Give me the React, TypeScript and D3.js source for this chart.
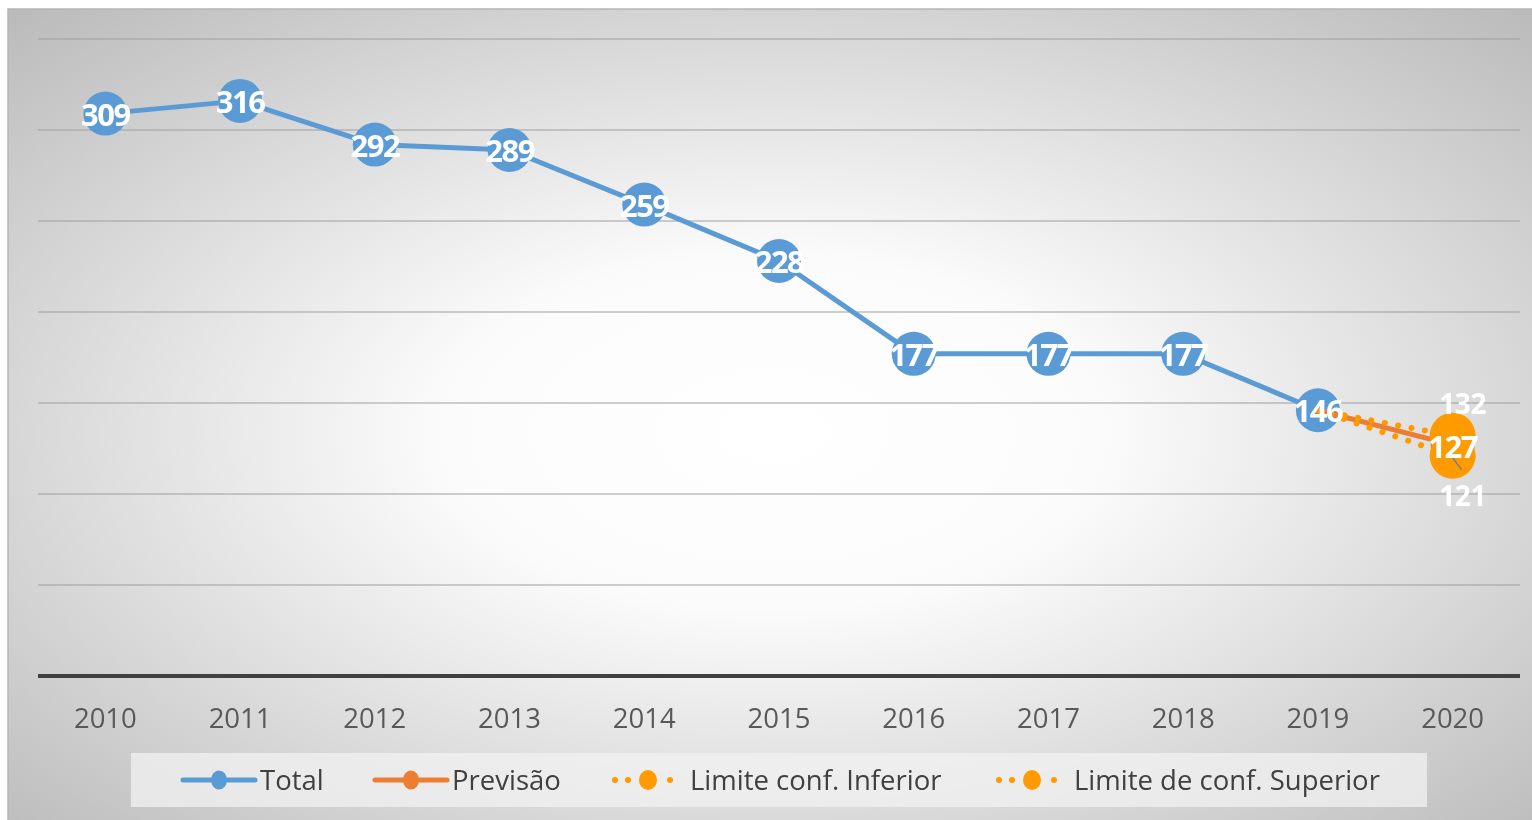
import React from "react";
import * as d3 from "d3";

// chart data
const years = ["2010", "2011", "2012", "2013", "2014", "2015", "2016", "2017", "2018", "2019", "2020"];
const totalValues = [309, 316, 292, 289, 259, 228, 177, 177, 177, 146];
const forecastYears = ["2019", "2020"];
const forecastValues = [146, 127];
const lowerValues = [146, 121];
const upperValues = [146, 132];
const gridTicks = [0, 50, 100, 150, 200, 250, 300, 350];
const legendLabels = ["Total", "Previsão", "Limite conf. Inferior", "Limite de conf. Superior"];

const BLUE = "#5b9bd5";
const ORANGE = "#ed7d31";
const GOLD = "#ff9a00";
const FONT = "'Open Sans', 'DejaVu Sans', sans-serif";

const W = 1532;
const H = 820;
const panel = { x: 8, y: 9, w: 1530, h: 815 };
const plot = { left: 38, right: 1520, top: 39, bottom: 676 };

export default function App() {
  const x = d3.scaleBand<string>().domain(years).range([plot.left, plot.right]);
  const cx = (yr: string) => (x(yr) ?? 0) + x.bandwidth() / 2;
  const y = d3.scaleLinear().domain([0, 350]).range([plot.bottom, plot.top]);

  const totalPts = totalValues.map((v, i) => ({ yr: years[i], v }));
  const fcPts = forecastValues.map((v, i) => ({ yr: forecastYears[i], v }));
  const loPts = lowerValues.map((v, i) => ({ yr: forecastYears[i], v }));
  const upPts = upperValues.map((v, i) => ({ yr: forecastYears[i], v }));

  const line = d3
    .line<{ yr: string; v: number }>()
    .x((d) => cx(d.yr))
    .y((d) => y(d.v));

  const last = forecastYears.length - 1;
  const lastYr = forecastYears[last];

  // legend item positions
  const legendItems = [
    { x: 183, kind: "solid", color: BLUE },
    { x: 375, kind: "solid", color: ORANGE },
    { x: 612, kind: "dot", color: GOLD },
    { x: 996, kind: "dot", color: GOLD },
  ];
  const legendY = 780;

  const labelStyle = {
    fontFamily: FONT,
    fontWeight: 700,
    fontSize: 31,
    letterSpacing: -1.5,
    fill: "#ffffff",
  } as const;

  return (
    <div style={{ position: "fixed", left: 0, top: 0, width: W, height: H, overflow: "hidden" }}>
      <svg width={W} height={H} style={{ display: "block" }}>
        <defs>
          <radialGradient id="bg" cx="0.5" cy="0.52" r="0.72">
            <stop offset="0" stopColor="#ffffff" />
            <stop offset="0.3" stopColor="#fbfbfb" />
            <stop offset="1" stopColor="#bababa" />
          </radialGradient>
        </defs>
        <rect x={panel.x} y={panel.y} width={panel.w} height={panel.h} fill="url(#bg)" stroke="#b5b5b5" strokeWidth={1.5} />

        {/* gridlines */}
        {gridTicks.slice(1).map((t) => (
          <line key={t} x1={plot.left} x2={plot.right} y1={y(t)} y2={y(t)} stroke="#9e9e9e" strokeWidth={1.2} />
        ))}
        <line x1={plot.left} x2={plot.right} y1={y(0)} y2={y(0)} stroke="#404040" strokeWidth={4} />

        {/* x labels */}
        {years.map((yr) => (
          <text key={yr} x={cx(yr)} y={728} textAnchor="middle" fontFamily={FONT} fontSize={27.5} fill="#595959">
            {yr}
          </text>
        ))}

        {/* Total */}
        <path d={line(totalPts) ?? ""} fill="none" stroke={BLUE} strokeWidth={5} strokeLinejoin="round" />
        {totalPts.map((d) => (
          <circle key={d.yr} cx={cx(d.yr)} cy={y(d.v)} r={22} fill={BLUE} />
        ))}

        {/* forecast + limits */}
        <path d={line(fcPts) ?? ""} fill="none" stroke={ORANGE} strokeWidth={5} />
        <path d={line(loPts) ?? ""} fill="none" stroke={GOLD} strokeWidth={6} strokeLinecap="round" strokeDasharray="0.1 13.5" />
        <path d={line(upPts) ?? ""} fill="none" stroke={GOLD} strokeWidth={6} strokeLinecap="round" strokeDasharray="0.1 13.5" />
        <circle cx={cx(lastYr)} cy={y(forecastValues[last])} r={22} fill={ORANGE} />
        <circle cx={cx(lastYr)} cy={y(lowerValues[last])} r={23} fill={GOLD} />
        <circle cx={cx(lastYr)} cy={y(upperValues[last])} r={23} fill={GOLD} />

        {/* data labels */}
        {totalPts.map((d) => (
          <text key={d.yr} x={cx(d.yr)} y={y(d.v) + 12} textAnchor="middle" {...labelStyle}>
            {d.v}
          </text>
        ))}
        <line x1={cx(lastYr)} y1={y(lowerValues[last]) + 2} x2={cx(lastYr) + 9} y2={y(lowerValues[last]) + 14} stroke="#7f7f7f" strokeWidth={1.5} />
        <text x={cx(lastYr)} y={y(forecastValues[last]) + 13} textAnchor="middle" {...labelStyle}>
          {forecastValues[last]}
        </text>
        <text x={cx(lastYr) + 10} y={y(upperValues[last]) - 22} textAnchor="middle" {...labelStyle} fontSize={28} letterSpacing={-0.5}>
          {upperValues[last]}
        </text>
        <text x={cx(lastYr) + 10} y={y(lowerValues[last]) + 50} textAnchor="middle" {...labelStyle} fontSize={28} letterSpacing={-0.5}>
          {lowerValues[last]}
        </text>

        {/* legend */}
        <rect x={131} y={753} width={1296} height={54} fill="#f2f2f2" fillOpacity={0.75} />
        {legendItems.map((it, i) => (
          <g key={i}>
            {it.kind === "solid" ? (
              <>
                <line x1={it.x} x2={it.x + 72} y1={legendY} y2={legendY} stroke={it.color} strokeWidth={5} strokeLinecap="round" />
                <ellipse cx={it.x + 36} cy={legendY} rx={8} ry={9.5} fill={it.color} />
              </>
            ) : (
              <>
                <circle cx={it.x + 3} cy={legendY} r={3} fill={it.color} />
                <circle cx={it.x + 16} cy={legendY} r={3} fill={it.color} />
                <ellipse cx={it.x + 36} cy={legendY} rx={9} ry={10} fill={it.color} />
                <circle cx={it.x + 58} cy={legendY} r={3} fill={it.color} />
              </>
            )}
            <text x={it.x + (it.kind === "solid" ? 77 : 78)} y={legendY + 10} fontFamily={FONT} fontSize={27.5} fill="#404040">
              {legendLabels[i]}
            </text>
          </g>
        ))}
      </svg>
    </div>
  );
}
